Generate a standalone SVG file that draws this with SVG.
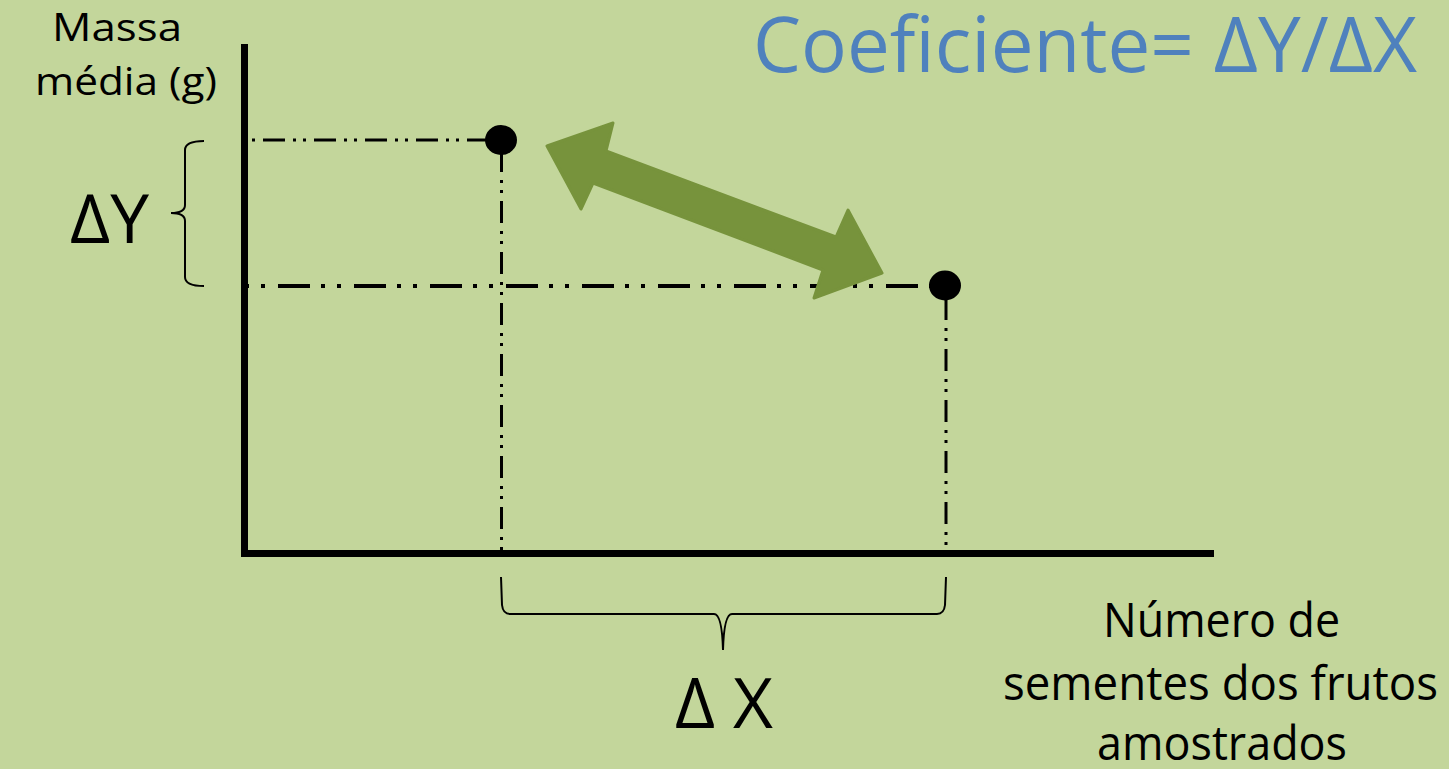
<svg xmlns="http://www.w3.org/2000/svg" width="1449" height="769" viewBox="0 0 1449 769">
<style>
  .t { font-family: "Open Sans", "Noto Sans", sans-serif; fill: #000; }
  .blue { fill: #4F81BD; }
  .axis { stroke: #000; stroke-width: 7; fill: none; }
  .thin { stroke: #000; stroke-width: 3; fill: none; stroke-dasharray: 22 8 3 7 3 8; }
  .thick { stroke: #000; stroke-width: 4; fill: none; stroke-dasharray: 32 11 4 12 4 13; }
  .brace { stroke: #000; stroke-width: 2; fill: none; }
</style>
<rect width="1449" height="769" fill="#C3D69B"/>
<g id="axes">
  <line class="axis" x1="244.5" y1="44" x2="244.5" y2="557"/>
  <line class="axis" x1="241" y1="553.5" x2="1214" y2="553.5"/>
</g>
<g id="connectors">
  <line class="thin" x1="248" y1="140" x2="490" y2="140" stroke-dashoffset="36"/>
  <line class="thick" x1="248" y1="286" x2="932" y2="286" stroke-dashoffset="46"/>
  <line class="thin" x1="501.5" y1="150" x2="501.5" y2="551"/>
  <line class="thin" x1="946" y1="298" x2="946" y2="551"/>
  <path class="brace" d="M 204 141 Q 185 141 185 150 L 185 205 Q 185 213 171 213 Q 185 213 185 221 L 185 277 Q 185 286 204 286"/>
  <path class="brace" d="M 501 577 L 502 605 Q 503 614 510 614 L 714 614 Q 722 614 723 650 Q 724 614 732 614 L 937 614 Q 944 614 945 605 L 946 577"/>
</g>
<g id="point1"><ellipse cx="501" cy="140" rx="16" ry="15" fill="#000"/></g>
<g id="point2"><ellipse cx="945" cy="285.5" rx="16" ry="15" fill="#000"/></g>
<g id="arrow">
  <polygon points="547,146 613,123 606,151 836,237 848,210 882,273 814,298 823,270 593,183 581,209" fill="#77933C" stroke="#77933C" stroke-width="3" stroke-linejoin="round"/>
</g>
<g id="labels">
  <text class="t" x="52" y="41" font-size="39" textLength="130" lengthAdjust="spacingAndGlyphs">Massa</text>
  <text class="t" x="35" y="95" font-size="39" textLength="182" lengthAdjust="spacingAndGlyphs">média (g)</text>
  <text class="t" x="70" y="243" font-size="67" textLength="79" lengthAdjust="spacingAndGlyphs">ΔY</text>
  <text class="t blue" x="753" y="72" font-size="76" textLength="664" lengthAdjust="spacingAndGlyphs">Coeficiente= ΔY/ΔX</text>
  <text class="t" x="675" y="728" font-size="70" textLength="98" lengthAdjust="spacingAndGlyphs">Δ X</text>
  <text class="t" x="1103" y="637" font-size="48" textLength="237" lengthAdjust="spacingAndGlyphs">Número de</text>
  <text class="t" x="1003" y="700" font-size="48" textLength="435" lengthAdjust="spacingAndGlyphs">sementes dos frutos</text>
  <text class="t" x="1097" y="760" font-size="48" textLength="250" lengthAdjust="spacingAndGlyphs">amostrados</text>
</g>
</svg>
